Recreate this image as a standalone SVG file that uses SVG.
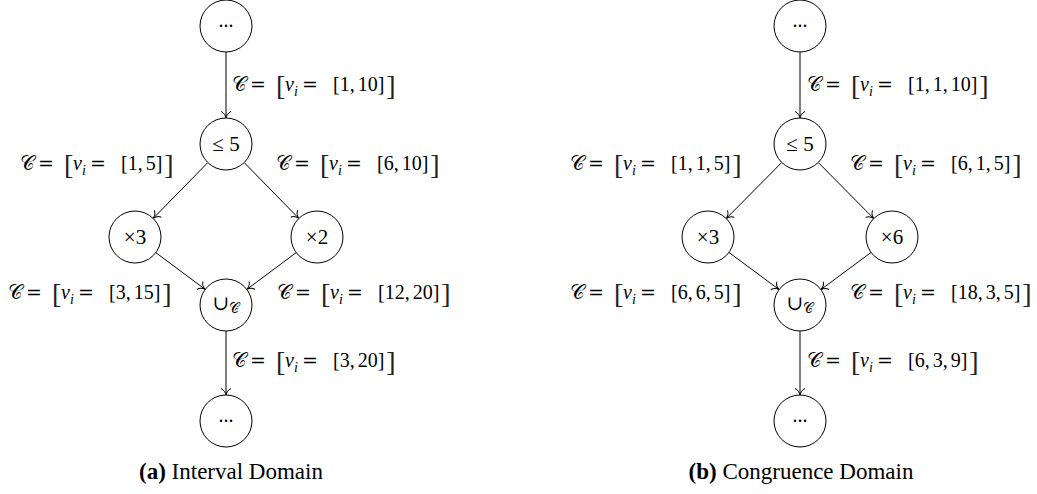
<svg xmlns="http://www.w3.org/2000/svg" width="1037" height="494" viewBox="0 0 1037 494">
<style>
.n{fill:#fff;stroke:#000;stroke-width:1}
.e{stroke:#000;stroke-width:1;fill:none;marker-end:url(#to)}
.t{font-family:"Liberation Serif","DejaVu Serif",serif;font-size:20px;fill:#000}
.nl{font-size:21px}
.c{text-anchor:middle}
.it{font-style:italic}
.eq{font-family:"DejaVu Serif",serif;font-size:19px}
.big{font-size:28px;fill:#222}
.sub{font-size:14px}
.cap{font-family:"Liberation Serif","DejaVu Serif",serif;font-size:23px;fill:#000;text-anchor:middle}
.b{font-weight:bold}
</style>
<defs>
<marker id="to" viewBox="-8 -6 9 12" refX="0" refY="0" markerWidth="9" markerHeight="12" orient="auto" markerUnits="userSpaceOnUse">
<path d="M-6.5,-5 C-5.5,-2 -2,-0.4 0,0 C-2,0.4 -5.5,2 -6.5,5" fill="none" stroke="#000" stroke-width="1"/>
</marker>
</defs>

<g id="connectors">
<line class="e" x1="226" y1="52" x2="226" y2="118"/>
<line class="e" x1="207.8" y1="162.6" x2="153.2" y2="218.4"/>
<line class="e" x1="244.2" y1="162.6" x2="298.8" y2="218.4"/>
<line class="e" x1="155.8" y1="252.6" x2="205.2" y2="289.4"/>
<line class="e" x1="296.2" y1="252.6" x2="246.8" y2="289.4"/>
<line class="e" x1="226" y1="331" x2="226" y2="395"/>
<line class="e" x1="800" y1="52" x2="800" y2="118"/>
<line class="e" x1="781.7" y1="162.5" x2="726.3" y2="218.5"/>
<line class="e" x1="818.3" y1="162.5" x2="873.7" y2="218.5"/>
<line class="e" x1="728.9" y1="252.4" x2="779.1" y2="289.6"/>
<line class="e" x1="871.1" y1="252.4" x2="820.9" y2="289.6"/>
<line class="e" x1="800" y1="331" x2="800" y2="395"/>
</g>

<g id="edge-labels">
<text class="t"><tspan x="232" y="91">𝒞</tspan><tspan class="eq" x="250">=</tspan><tspan class="big" x="276" y="95">[</tspan><tspan class="it" x="285" y="91">v</tspan><tspan class="sub it" y="96">i</tspan><tspan class="eq" x="302" y="91">=</tspan><tspan x="333">[1,</tspan><tspan dx="3">10]</tspan><tspan class="big" dx="2" y="95">]</tspan></text>
<text class="t"><tspan x="20" y="170">𝒞</tspan><tspan class="eq" x="38">=</tspan><tspan class="big" x="64" y="174">[</tspan><tspan class="it" x="73" y="170">v</tspan><tspan class="sub it" y="175">i</tspan><tspan class="eq" x="90" y="170">=</tspan><tspan x="121">[1,</tspan><tspan dx="3">5]</tspan><tspan class="big" dx="2" y="174">]</tspan></text>
<text class="t"><tspan x="276" y="170">𝒞</tspan><tspan class="eq" x="294">=</tspan><tspan class="big" x="320" y="174">[</tspan><tspan class="it" x="329" y="170">v</tspan><tspan class="sub it" y="175">i</tspan><tspan class="eq" x="346" y="170">=</tspan><tspan x="377">[6,</tspan><tspan dx="3">10]</tspan><tspan class="big" dx="2" y="174">]</tspan></text>
<text class="t"><tspan x="8" y="299">𝒞</tspan><tspan class="eq" x="26">=</tspan><tspan class="big" x="52" y="303">[</tspan><tspan class="it" x="61" y="299">v</tspan><tspan class="sub it" y="304">i</tspan><tspan class="eq" x="78" y="299">=</tspan><tspan x="109">[3,</tspan><tspan dx="3">15]</tspan><tspan class="big" dx="2" y="303">]</tspan></text>
<text class="t"><tspan x="277" y="299">𝒞</tspan><tspan class="eq" x="295">=</tspan><tspan class="big" x="321" y="303">[</tspan><tspan class="it" x="330" y="299">v</tspan><tspan class="sub it" y="304">i</tspan><tspan class="eq" x="347" y="299">=</tspan><tspan x="378">[12,</tspan><tspan dx="3">20]</tspan><tspan class="big" dx="2" y="303">]</tspan></text>
<text class="t"><tspan x="232" y="367">𝒞</tspan><tspan class="eq" x="250">=</tspan><tspan class="big" x="276" y="371">[</tspan><tspan class="it" x="285" y="367">v</tspan><tspan class="sub it" y="372">i</tspan><tspan class="eq" x="302" y="367">=</tspan><tspan x="333">[3,</tspan><tspan dx="3">20]</tspan><tspan class="big" dx="2" y="371">]</tspan></text>

<text class="t"><tspan x="807" y="91">𝒞</tspan><tspan class="eq" x="825">=</tspan><tspan class="big" x="851" y="95">[</tspan><tspan class="it" x="860" y="91">v</tspan><tspan class="sub it" y="96">i</tspan><tspan class="eq" x="877" y="91">=</tspan><tspan x="908">[1,</tspan><tspan dx="3">1,</tspan><tspan dx="3">10]</tspan><tspan class="big" dx="2" y="95">]</tspan></text>
<text class="t"><tspan x="570" y="170">𝒞</tspan><tspan class="eq" x="588">=</tspan><tspan class="big" x="614" y="174">[</tspan><tspan class="it" x="623" y="170">v</tspan><tspan class="sub it" y="175">i</tspan><tspan class="eq" x="640" y="170">=</tspan><tspan x="671">[1,</tspan><tspan dx="3">1,</tspan><tspan dx="3">5]</tspan><tspan class="big" dx="2" y="174">]</tspan></text>
<text class="t"><tspan x="850" y="170">𝒞</tspan><tspan class="eq" x="868">=</tspan><tspan class="big" x="894" y="174">[</tspan><tspan class="it" x="903" y="170">v</tspan><tspan class="sub it" y="175">i</tspan><tspan class="eq" x="920" y="170">=</tspan><tspan x="951">[6,</tspan><tspan dx="3">1,</tspan><tspan dx="3">5]</tspan><tspan class="big" dx="2" y="174">]</tspan></text>
<text class="t"><tspan x="570" y="299">𝒞</tspan><tspan class="eq" x="588">=</tspan><tspan class="big" x="614" y="303">[</tspan><tspan class="it" x="623" y="299">v</tspan><tspan class="sub it" y="304">i</tspan><tspan class="eq" x="640" y="299">=</tspan><tspan x="671">[6,</tspan><tspan dx="3">6,</tspan><tspan dx="3">5]</tspan><tspan class="big" dx="2" y="303">]</tspan></text>
<text class="t"><tspan x="850" y="299">𝒞</tspan><tspan class="eq" x="868">=</tspan><tspan class="big" x="894" y="303">[</tspan><tspan class="it" x="903" y="299">v</tspan><tspan class="sub it" y="304">i</tspan><tspan class="eq" x="920" y="299">=</tspan><tspan x="951">[18,</tspan><tspan dx="3">3,</tspan><tspan dx="3">5]</tspan><tspan class="big" dx="2" y="303">]</tspan></text>
<text class="t"><tspan x="807" y="367">𝒞</tspan><tspan class="eq" x="825">=</tspan><tspan class="big" x="851" y="371">[</tspan><tspan class="it" x="860" y="367">v</tspan><tspan class="sub it" y="372">i</tspan><tspan class="eq" x="877" y="367">=</tspan><tspan x="908">[6,</tspan><tspan dx="3">3,</tspan><tspan dx="3">9]</tspan><tspan class="big" dx="2" y="371">]</tspan></text>
</g>

<g id="a-top"><circle class="n" cx="226" cy="26" r="26"/><text class="t c" x="226" y="27" font-size="17">...</text></g>
<g id="a-le"><circle class="n" cx="226" cy="144" r="26"/><text class="t nl c" x="226" y="151">≤ 5</text></g>
<g id="a-x3"><circle class="n" cx="135" cy="237" r="26"/><text class="t nl c" x="135" y="244">×3</text></g>
<g id="a-x2"><circle class="n" cx="317" cy="237" r="26"/><text class="t nl c" x="317" y="244">×2</text></g>
<g id="a-union"><circle class="n" cx="226" cy="305" r="26"/><text class="t c" x="226" y="310">∪<tspan class="sub" dy="3">𝒞</tspan></text></g>
<g id="a-bottom"><circle class="n" cx="226" cy="421" r="26"/><text class="t c" x="226" y="422" font-size="17">...</text></g>

<g id="b-top"><circle class="n" cx="800" cy="26" r="26"/><text class="t c" x="800" y="27" font-size="17">...</text></g>
<g id="b-le"><circle class="n" cx="800" cy="144" r="26"/><text class="t nl c" x="800" y="151">≤ 5</text></g>
<g id="b-x3"><circle class="n" cx="708" cy="237" r="26"/><text class="t nl c" x="708" y="244">×3</text></g>
<g id="b-x6"><circle class="n" cx="892" cy="237" r="26"/><text class="t nl c" x="892" y="244">×6</text></g>
<g id="b-union"><circle class="n" cx="800" cy="305" r="26"/><text class="t c" x="800" y="310">∪<tspan class="sub" dy="3">𝒞</tspan></text></g>
<g id="b-bottom"><circle class="n" cx="800" cy="421" r="26"/><text class="t c" x="800" y="422" font-size="17">...</text></g>

<g id="captions">
<text class="cap" x="231" y="479"><tspan class="b">(a)</tspan> Interval Domain</text>
<text class="cap" x="801" y="479"><tspan class="b">(b)</tspan> Congruence Domain</text>
</g>
</svg>
